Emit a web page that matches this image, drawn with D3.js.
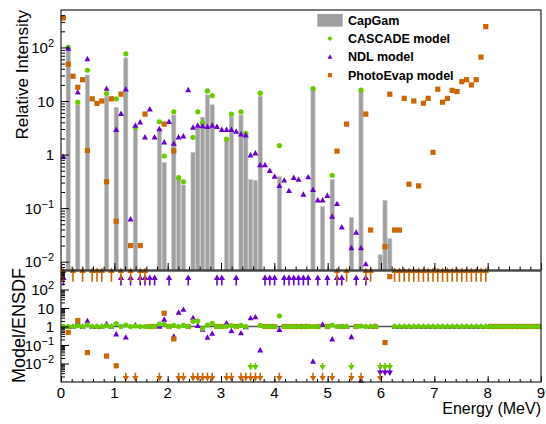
<!DOCTYPE html>
<html>
<head>
<meta charset="utf-8">
<script src="https://cdn.jsdelivr.net/npm/d3@7/dist/d3.min.js"></script>
<style>
  body { margin: 0; background: #fff; }
  text { font-family: "Liberation Sans", Arial, Helvetica, sans-serif; fill: #000; }
</style>
</head>
<body>
<div id="viz"></div>
<script>
// histogram bins are 0.09 MeV wide (100 bins over 0-9 MeV)
const binWidth = 0.09;

// CapGam (ENSDF) intensities, by bin index
const capBins = [1, 3, 5, 9, 11, 13, 15, 20, 21, 23, 24, 25, 27, 28, 29, 30, 31, 34, 35, 37, 38, 39, 40, 41, 45, 52, 54, 56, 60, 62, 66, 67, 68];
const capVals = [100, 8.5, 30.6, 12.3, 7.6, 64, 3.0, 3.0, 0.71, 5.5, 0.37, 0.27, 1.1, 3.2, 5.0, 13, 8.5, 1.9, 5.1, 5.5, 2.5, 0.34, 0.33, 12.3, 0.39, 17, 0.107, 0.34, 0.067, 15, 0.0135, 0.14, 0.027];

// CASCADE model
const cascadeBins = [1, 3, 5, 9, 11, 13, 15, 20, 21, 23, 24, 25, 27, 28, 29, 30, 31, 34, 35, 37, 38, 41, 45, 52, 56, 62];
const cascadeVals = [100, 9.5, 37.5, 13.8, 11, 76, 3.2, 4.1, 0.94, 6.3, 0.37, 0.31, 2.1, 6.3, 3.9, 15.4, 12.6, 1.95, 5.7, 6.3, 2.5, 14, 1.47, 17, 0.41, 16];

// NDL model
const ndlBins = [0, 1, 3, 5, 9, 11, 12, 13, 14, 15, 16, 17, 18, 19, 20, 21, 22, 23, 24, 25, 26, 27, 28, 29, 30, 31, 32, 33, 34, 35, 36, 37, 38, 39, 40, 41, 42, 43, 44, 45, 46, 47, 48, 49, 50, 51, 52, 53, 54, 55, 56, 57, 58, 60, 61, 62, 63];
const ndlVals = [0.91, 95, 14.5, 61, 17, 2.9, 5.8, 16.6, 0.062, 3.5, 4, 2.1, 7, 2.1, 3, 1.7, 4.1, 1.6, 2.1, 2.2, 16, 3.2, 3.5, 3.4, 3.3, 3.5, 3.3, 2.9, 2.9, 2.9, 2.7, 2.4, 2.3, 0.97, 1.06, 0.64, 0.64, 0.5, 0.39, 0.26, 0.33, 0.21, 0.37, 0.34, 0.18, 0.38, 0.22, 0.14, 0.14, 0.17, 0.07, 0.12, 0.044, 0.018, 0.035, 0.018, 0.009];

// PhotoEvap model
const photoBins = [0, 1, 2, 3, 4, 5, 6, 7, 8, 9, 10, 11, 12, 14, 16, 17, 21, 23, 57, 59, 63, 64, 67, 68, 69, 70, 71, 72, 73, 74, 75, 76, 77, 78, 79, 80, 81, 82, 83, 84, 85, 86, 87, 88];
const photoVals = [355, 48.5, 29, 18, 25, 1.19, 11, 9, 10, 0.31, 11, 0.057, 13.4, 0.02, 0.02, 5.7, 3.7, 1.17, 1.16, 3.7, 5.7, 0.039, 0.019, 13.4, 0.039, 0.039, 11.2, 0.28, 10, 0.26, 9.1, 11.2, 1.1, 16.6, 9.5, 11.2, 15.8, 15, 23, 25, 20, 25, 66, 245];

const topTicks = [0.01, 0.1, 1, 10, 100];
const topTickLabels = [['10', '\u22122'], ['10', '\u22121'], ['1', ''], ['10', ''], ['10', '2']];
const ratioTicks = [0.01, 0.1, 1, 10, 100];
const ratioTickLabels = [['10', '\u22122'], ['10', '\u22121'], ['1', ''], ['10', ''], ['10', '2']];
const energyTicks = [0, 1, 2, 3, 4, 5, 6, 7, 8, 9];
const legendLabels = ['CapGam', 'CASCADE model', 'NDL model', 'PhotoEvap model'];

const colors = { cap: '#a0a0a0', cascade: '#66cc00', ndl: '#6a00cc', photo: '#cc6600' };

const width = 546, height = 424;
const left = 61, right = 541;
const topPanel = { top: 10, bottom: 270 };
const botPanel = { top: 271, bottom: 382 };
const nBins = 100;

const svg = d3.select('#viz').append('svg')
  .attr('width', width)
  .attr('height', height);

const x = d3.scaleLinear().domain([0, 9]).range([left, right]);
const yTop = d3.scaleLog().domain([0.007, 500]).range([topPanel.bottom, topPanel.top]);
const yRat = d3.scaleLog().domain([0.001, 1000]).range([botPanel.bottom, botPanel.top]);

const centre = i => (i + 0.5) * binWidth;

function toFull(bins, vals) {
  const a = new Array(nBins).fill(0);
  bins.forEach((b, k) => { a[b] = vals[k]; });
  return a;
}
const cap = toFull(capBins, capVals);
const models = [
  { key: 'ndl', vals: toFull(ndlBins, ndlVals), up: [165, 640], down: [0.0064, 0.0021] },
  { key: 'photo', vals: toFull(photoBins, photoVals), up: [260, 1550], down: [0.0032, 0.00105] },
  { key: 'cascade', vals: toFull(cascadeBins, cascadeVals), up: [165, 640], down: [0.011, 0.0042] }
];

// ---------- top panel ----------
const gTop = svg.append('g');

gTop.selectAll('rect.bar')
  .data(capBins.map((b, k) => ({ b: b, v: capVals[k] })))
  .enter().append('rect')
  .attr('class', 'bar')
  .attr('x', d => x(d.b * binWidth) + 0.3)
  .attr('width', d => x((d.b + 1) * binWidth) - x(d.b * binWidth) - 0.6)
  .attr('y', d => yTop(d.v))
  .attr('height', d => topPanel.bottom - yTop(d.v))
  .attr('fill', colors.cap)
  .attr('stroke', '#c8c8c8')
  .attr('stroke-width', 0.6);

function marker(sel, key, size) {
  const s = size || 1;
  if (key === 'cascade') {
    sel.append('circle').attr('r', 2.6 * s).attr('fill', colors.cascade);
  } else if (key === 'ndl') {
    sel.append('path').attr('d', 'M0,' + (-3.2 * s) + 'L' + (3 * s) + ',' + (2.2 * s) + 'L' + (-3 * s) + ',' + (2.2 * s) + 'Z')
      .attr('fill', colors.ndl);
  } else {
    sel.append('rect').attr('x', -2.6 * s).attr('y', -2.6 * s).attr('width', 5.2 * s).attr('height', 5.2 * s)
      .attr('fill', colors.photo);
  }
}

const topSeries = [
  { key: 'cascade', bins: cascadeBins, vals: cascadeVals },
  { key: 'ndl', bins: ndlBins, vals: ndlVals },
  { key: 'photo', bins: photoBins, vals: photoVals }
];
topSeries.forEach(s => {
  gTop.selectAll('g.m-' + s.key)
    .data(s.bins.map((b, k) => ({ b: b, v: s.vals[k] })))
    .enter().append('g')
    .attr('class', 'm-' + s.key)
    .attr('transform', d => 'translate(' + x(centre(d.b)) + ',' + yTop(d.v) + ')')
    .each(function () { marker(d3.select(this), s.key); });
});

// ---------- bottom panel (ratio) ----------
const gBot = svg.append('g');

gBot.append('line')
  .attr('x1', left).attr('x2', right)
  .attr('y1', yRat(1)).attr('y2', yRat(1))
  .attr('stroke', '#555').attr('stroke-width', 1.5);

function arrow(g, xc, y1, y2, col) {
  // y1 = tail, y2 = head
  const dir = y2 < y1 ? 1 : -1;
  g.append('line').attr('x1', xc).attr('x2', xc).attr('y1', y1).attr('y2', y2 + dir * 4)
    .attr('stroke', col).attr('stroke-width', 1.6);
  g.append('path')
    .attr('d', 'M' + xc + ',' + y2 + 'L' + (xc + 3.2) + ',' + (y2 + dir * 5.5) + 'L' + (xc - 3.2) + ',' + (y2 + dir * 5.5) + 'Z')
    .attr('fill', col);
}

models.forEach(m => {
  const pts = [];
  for (let i = 0; i < nBins; i++) {
    const v = m.vals[i], c = cap[i];
    if (v === 0 && c === 0) pts.push({ b: i, r: 1 });
    else if (c === 0) arrow(gBot, x(centre(i)), yRat(m.up[0]), yRat(m.up[1]), colors[m.key]);
    else if (v === 0) arrow(gBot, x(centre(i)), yRat(m.down[0]), yRat(m.down[1]), colors[m.key]);
    else pts.push({ b: i, r: v / c });
  }
  gBot.selectAll('g.r-' + m.key)
    .data(pts)
    .enter().append('g')
    .attr('class', 'r-' + m.key)
    .attr('transform', d => 'translate(' + x(centre(d.b)) + ',' + yRat(Math.min(Math.max(d.r, 0.0012), 800)) + ')')
    .each(function () { marker(d3.select(this), m.key); });
});

// ---------- axes and frames ----------
function logMinor(domain) {
  const out = [];
  for (let e = -4; e <= 4; e++) {
    for (let k = 2; k <= 9; k++) {
      const v = k * Math.pow(10, e);
      if (v > domain[0] && v < domain[1]) out.push(v);
    }
  }
  return out;
}

function drawAxes(yScale, panel, majors, labels, majLen, minLen, xMaj, xMin, showX) {
  const g = svg.append('g');
  g.append('g')
    .attr('transform', 'translate(' + left + ',0)')
    .call(d3.axisLeft(yScale).tickValues(majors).tickSize(-majLen).tickFormat(''))
    .call(a => a.select('.domain').remove());
  g.append('g')
    .attr('transform', 'translate(' + left + ',0)')
    .call(d3.axisLeft(yScale).tickValues(logMinor(yScale.domain())).tickSize(-minLen).tickFormat(''))
    .call(a => a.select('.domain').remove());
  g.append('g')
    .attr('transform', 'translate(0,' + panel.bottom + ')')
    .call(d3.axisBottom(x).tickValues(energyTicks).tickSize(-xMaj).tickFormat(''))
    .call(a => a.select('.domain').remove());
  g.append('g')
    .attr('transform', 'translate(0,' + panel.bottom + ')')
    .call(d3.axisBottom(x).tickValues(d3.range(0.2, 9, 0.2)).tickSize(-xMin).tickFormat(''))
    .call(a => a.select('.domain').remove());
  g.selectAll('.tick line').attr('stroke', '#000');

  g.append('rect')
    .attr('x', left).attr('y', panel.top)
    .attr('width', right - left).attr('height', panel.bottom - panel.top)
    .attr('fill', 'none').attr('stroke', '#222').attr('stroke-width', 1.2);

  majors.forEach((v, k) => {
    const t = g.append('text')
      .attr('x', 54).attr('y', yScale(v) + 5.5)
      .attr('text-anchor', 'end')
      .style('font-size', '15px');
    t.append('tspan').text(labels[k][0]);
    if (labels[k][1]) {
      t.append('tspan').attr('dy', -6).style('font-size', '11px').text(labels[k][1]);
    }
  });

  if (showX) {
    g.selectAll('text.xl')
      .data(energyTicks)
      .enter().append('text')
      .attr('class', 'xl')
      .attr('x', d => x(d))
      .attr('y', panel.bottom + 16)
      .attr('text-anchor', 'middle')
      .style('font-size', '15px')
      .text(d => d);
  }
}

drawAxes(yTop, topPanel, topTicks, topTickLabels, 8, 4, 7, 3.5, false);
drawAxes(yRat, botPanel, ratioTicks, ratioTickLabels, 8, 4, 6, 3, true);

svg.append('text')
  .attr('transform', 'translate(28,' + topPanel.top + ') rotate(-90)')
  .attr('text-anchor', 'end')
  .style('font-size', '17px')
  .text('Relative Intensity');

svg.append('text')
  .attr('transform', 'translate(25,' + (botPanel.top - 3) + ') rotate(-90)')
  .attr('text-anchor', 'end')
  .style('font-size', '18px')
  .text('Model/ENSDF');

svg.append('text')
  .attr('x', right)
  .attr('y', 414)
  .attr('text-anchor', 'end')
  .style('font-size', '16px')
  .text('Energy (MeV)');

// ---------- legend ----------
const legend = svg.append('g');
const legendKeys = ['cap', 'cascade', 'ndl', 'photo'];
legendLabels.forEach((lab, k) => {
  const yy = 20.3 + k * 18.3;
  const row = legend.append('g').attr('transform', 'translate(330,' + yy + ')');
  if (legendKeys[k] === 'cap') {
    row.append('rect').attr('x', -12.7).attr('y', -6.3).attr('width', 25.4).attr('height', 12.7).attr('fill', colors.cap);
  } else {
    marker(row, legendKeys[k], 0.8);
  }
  legend.append('text')
    .attr('x', 348).attr('y', yy + 4.5)
    .style('font-size', '12.5px')
    .style('font-weight', 'bold')
    .text(lab);
});
</script>
</body>
</html>
